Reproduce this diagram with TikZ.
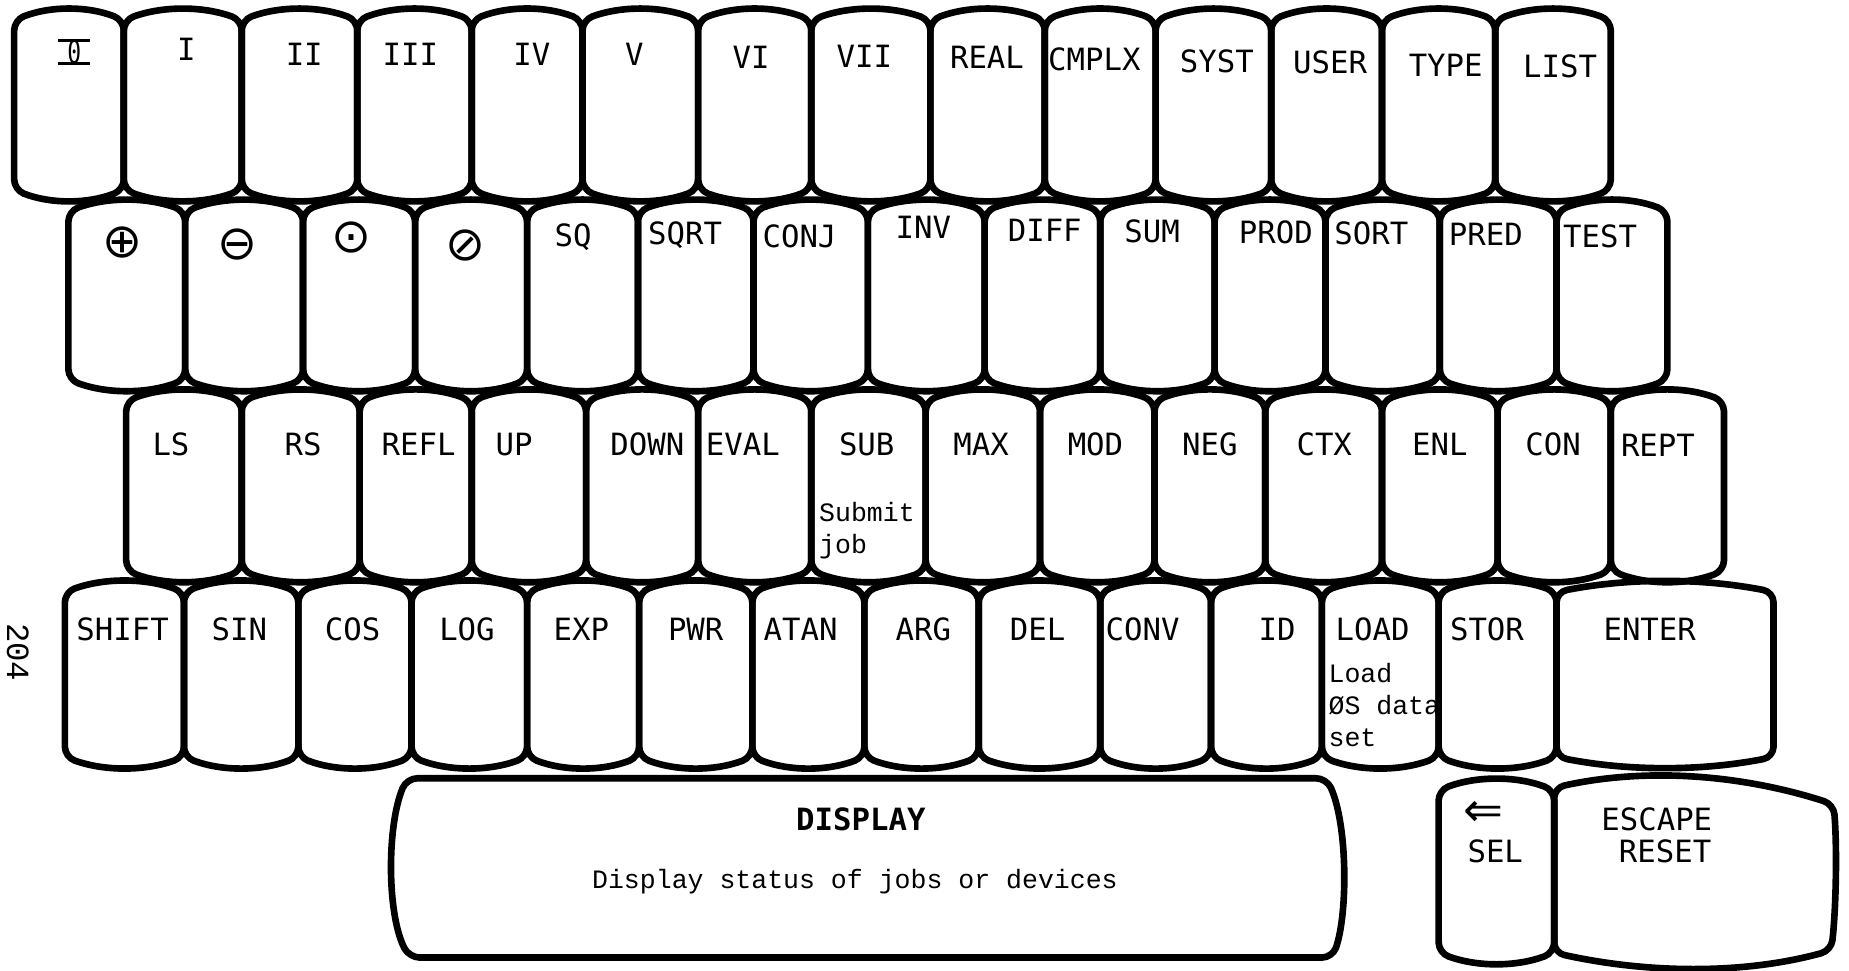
\documentclass[tikz,border=0pt]{standalone}
\usepackage{fontspec}
\usepackage{graphicx}
\newfontfamily\keyfont{DejaVu Sans Mono}
\newfontfamily\symfont{DejaVu Sans}
\newfontfamily\typefont{Liberation Mono}
\tikzset{
  keyline/.style={line width=1.6pt, line join=round, rounded corners=2.5pt},
  lab/.style={font=\keyfont\fontsize{7.4}{8}\selectfont, inner sep=0pt},
  boldlab/.style={font=\keyfont\bfseries\fontsize{7.4}{8}\selectfont, inner sep=0pt},
  sym/.style={font=\symfont\fontsize{11.5}{12}\selectfont, inner sep=0pt},
  note/.style={font=\typefont\fontsize{6.4}{7.7}\selectfont, inner sep=0pt, align=left, anchor=base west},
  desc/.style={font=\typefont\fontsize{6.4}{7.7}\selectfont, inner sep=0pt},
  pagenum/.style={font=\typefont\fontsize{7.8}{8}\selectfont, inner sep=0pt, rotate=-90},
}
\newcommand\kbkey[4]{\draw[keyline] (#1,#3) .. controls ({#1+(#2-#1)/3},{#3-12}) and ({#2-(#2-#1)/3},{#3-12}) .. (#2,#3) -- (#2,#4) .. controls ({#2-(#2-#1)/3},{#4+12}) and ({#1+(#2-#1)/3},{#4+12}) .. (#1,#4) -- cycle;}
\begin{document}
\begin{tikzpicture}[x=0.01cm,y=-0.01cm]
\useasboundingbox (0,0) rectangle (1568,823);
% ---------- key outlines ----------
\foreach \x [remember=\x as \px (initially 12)] in {105,205,303,400,494,592,688,789,886,980,1078,1172,1268,1366} {\kbkey{\px}{\x}{17}{161}}
\foreach \x [remember=\x as \px (initially 58)] in {157,257,352,447,541,639,736,835,933,1030,1124,1221,1320,1414} {\kbkey{\px}{\x}{179}{322}}
\foreach \x [remember=\x as \px (initially 107)] in {205,305,400,497,592,688,785,882,979,1073,1172,1270,1366,1462} {\kbkey{\px}{\x}{340}{484}}
\foreach \x [remember=\x as \px (initially 55)] in {156,253,349,447,542,638,733,830,933,1027,1121,1220,1320,1504} {\kbkey{\px}{\x}{502}{642}}
\kbkey{1220}{1318}{670}{808}
\draw[keyline] (1318,668) .. controls (1400,650) and (1480,658) .. (1555,682) .. controls (1558,720) and (1557,770) .. (1553,806) .. controls (1480,826) and (1400,826) .. (1318,808) -- cycle;
\draw[keyline] (700,660) -- (1125,660) .. controls (1143,700) and (1143,775) .. (1130,812) -- (347,812) .. controls (328,775) and (328,700) .. (345,660) -- cycle;
% ---------- row 1 ----------
\node[lab] (kzero) at (63,44) {\rlap{\rule[-0.06em]{1.05em}{0.11em}}\rlap{\rule[0.69em]{1.05em}{0.11em}}\makebox[1.05em]{\scalebox{0.75}[1.03]{0}}};
\node[lab] (kI) at (158,42) {I};
\node[lab] (kII) at (258,46) {II};
\node[lab] (kIII) at (348,46) {III};
\node[lab] (kIV) at (451,46) {IV};
\node[lab] (kV) at (538,46) {V};
\node[lab] (kVI) at (637,49) {VI};
\node[lab] (kVII) at (733,48) {VII};
\node[lab] (kreal) at (837,49) {REAL};
\node[lab] (kcmplx) at (928,50) {CMPLX};
\node[lab] (ksyst) at (1032,52) {SYST};
\node[lab] (kuser) at (1128,53) {USER};
\node[lab] (ktype) at (1226,55) {TYPE};
\node[lab] (klist) at (1323,56) {LIST};
% ---------- row 2 ----------
\node[sym] (kplus) at (104,206) {⊕};
\node[sym] (kminus) at (201,207) {⊖};
\node[sym] (ktimes) at (298,201) {⊙};
\node[sym] (kdiv) at (395,208) {⊘};
\node[lab] (ksq) at (486,201) {SQ};
\node[lab] (ksqrt) at (581,199) {SQRT};
\node[lab] (kconj) at (678,200) {CONJ};
\node[lab] (kinv) at (783,193) {INV};
\node[lab] (kdiff) at (886,195) {DIFF};
\node[lab] (ksum) at (977,196) {SUM};
\node[lab] (kprod) at (1082,197) {PROD};
\node[lab] (ksort) at (1163,198) {SORT};
\node[lab] (kpred) at (1260,199) {PRED};
\node[lab] (ktest) at (1357,200) {TEST};
% ---------- row 3 ----------
\node[lab] (kls) at (145,377) {LS};
\node[lab] (krs) at (257,377) {RS};
\node[lab] (krefl) at (355,377) {REFL};
\node[lab] (kup) at (436,377) {UP};
\node[lab] (kdown) at (549,377) {DOWN};
\node[lab] (keval) at (630,377) {EVAL};
\node[lab] (ksub) at (735,377) {SUB};
\node[note] (nsub) at (694,469) {Submit\\job};
\node[lab] (kmax) at (832,377) {MAX};
\node[lab] (kmod) at (929,377) {MOD};
\node[lab] (kneg) at (1026,377) {NEG};
\node[lab] (kctx) at (1123,377) {CTX};
\node[lab] (kenl) at (1221,377) {ENL};
\node[lab] (kcon) at (1317,377) {CON};
\node[lab] (krept) at (1406,378) {REPT};
% ---------- row 4 ----------
\node[lab] (kshift) at (104,534) {SHIFT};
\node[lab] (ksin) at (203,534) {SIN};
\node[lab] (kcos) at (299,534) {COS};
\node[lab] (klog) at (396,534) {LOG};
\node[lab] (kexp) at (493,534) {EXP};
\node[lab] (kpwr) at (590,534) {PWR};
\node[lab] (katan) at (679,534) {ATAN};
\node[lab] (karg) at (783,534) {ARG};
\node[lab] (kdel) at (880,534) {DEL};
\node[lab] (kconv) at (969,534) {CONV};
\node[lab] (kid) at (1083,534) {ID};
\node[lab] (kload) at (1164,534) {LOAD};
\node[note] (nload) at (1126,633) {Load\\ØS data\\set};
\node[lab] (kstor) at (1261,534) {STOR};
\node[lab] (kenter) at (1399,534) {ENTER};
% ---------- bottom ----------
\node[boldlab] (kdisplay) at (730,695) {DISPLAY};
\node[desc] (ndisplay) at (725,748) {Display status of jobs or devices};
\node[sym] (karrow) at (1258,690) {⇐};
\node[lab] (ksel) at (1268,722) {SEL};
\node[lab] (kescape) at (1405,695) {ESCAPE};
\node[lab] (kreset) at (1412,722) {RESET};
\node[pagenum] (page) at (15,553) {204};
\end{tikzpicture}
\end{document}
